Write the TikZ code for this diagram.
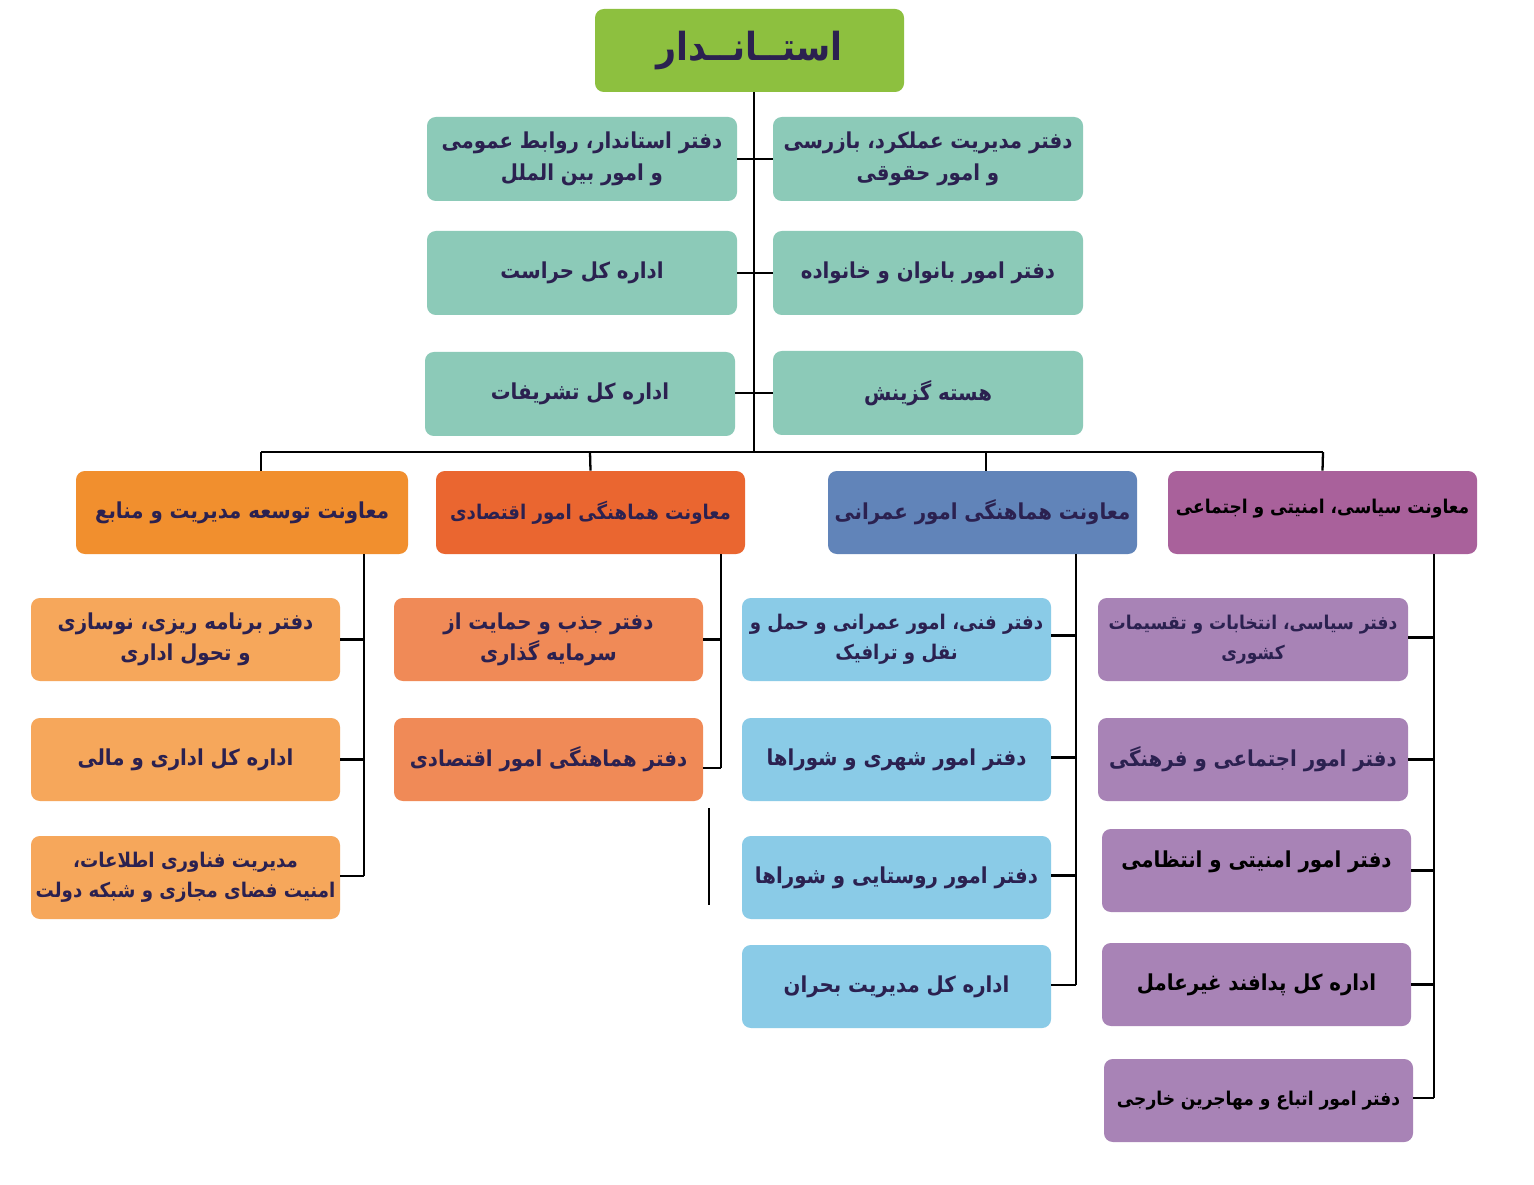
\documentclass[tikz,border=0pt]{standalone}
\usepackage{fontspec}
\newfontfamily\fa[Script=Arabic]{DejaVu Sans Condensed}
\TeXXeTstate=1
\definecolor{cgreen}{HTML}{8DC03F}
\definecolor{cteal}{HTML}{8CCAB8}
\definecolor{cdor}{HTML}{F18F2E}
\definecolor{cdred}{HTML}{EA6630}
\definecolor{cdblue}{HTML}{6184B9}
\definecolor{cdpur}{HTML}{A9619B}
\definecolor{cor}{HTML}{F6A75B}
\definecolor{cred}{HTML}{F08A57}
\definecolor{cblue}{HTML}{8ACBE7}
\definecolor{cpur}{HTML}{A883B6}
\definecolor{txt}{HTML}{2B2150}
\newcommand\rl[1]{\beginR #1\endR}
\newcommand\orgbox[7]{\node[orgnode,#6,minimum width={(#4-#2)*0.02cm},minimum height={(#5-#3)*0.02cm}] (#1) at ({(#2+#4)/2},{(#3+#5)/2}) {#7};}
\begin{document}
\begin{tikzpicture}[x=0.02cm,y=-0.02cm,
  orgnode/.style={rectangle,rounded corners=5pt,inner sep=0pt,align=center,text=txt,
    font=\fa\bfseries\fontsize{12.5}{18}\selectfont},
  smalltext/.style={font=\fa\bfseries\fontsize{11.5}{17}\selectfont},
  tinytext/.style={font=\fa\bfseries\fontsize{10.8}{17}\selectfont},
  conn/.style={line width=1.3pt,black}]
\useasboundingbox[fill=white] (0,0) rectangle (1534,1185);
% top
\orgbox{top}{595}{9}{904}{92}{fill=cgreen,font=\fa\bfseries\fontsize{22}{26}\selectfont}{\rl{استــانــدار}}
% staff
\orgbox{l1}{427}{117}{737}{201}{fill=cteal}{\rl{دفتر استاندار، روابط عمومی}\\\rl{و امور بین الملل}}
\orgbox{r1}{773}{117}{1083}{201}{fill=cteal}{\rl{دفتر مدیریت عملکرد، بازرسی}\\\rl{و امور حقوقی}}
\orgbox{l2}{427}{231}{737}{315}{fill=cteal}{\rl{اداره کل حراست}}
\orgbox{r2}{773}{231}{1083}{315}{fill=cteal}{\rl{دفتر امور بانوان و خانواده}}
\orgbox{l3}{425}{352}{735}{436}{fill=cteal}{\rl{اداره کل تشریفات}}
\orgbox{r3}{773}{351}{1083}{435}{fill=cteal}{\rl{هسته گزینش}}
% deputies
\orgbox{d1}{76}{471}{408}{554}{fill=cdor}{\rl{معاونت توسعه مدیریت و منابع}}
\orgbox{d2}{436}{471}{745}{554}{fill=cdred,smalltext}{\rl{معاونت هماهنگی امور اقتصادی}}
\orgbox{d3}{828}{471}{1137}{554}{fill=cdblue}{\rl{معاونت هماهنگی امور عمرانی}}
\orgbox{d4}{1168}{471}{1477}{554}{fill=cdpur,text=black,tinytext}{\raisebox{0.26cm}{\rl{معاونت سیاسی، امنیتی و اجتماعی}}}
% orange column
\orgbox{o1}{31}{598}{340}{681}{fill=cor}{\rl{دفتر برنامه ریزی، نوسازی}\\\rl{و تحول اداری}}
\orgbox{o2}{31}{718}{340}{801}{fill=cor}{\rl{اداره کل اداری و مالی}}
\orgbox{o3}{31}{836}{340}{919}{fill=cor,smalltext}{\rl{مدیریت فناوری اطلاعات،}\\\rl{امنیت فضای مجازی و شبکه دولت}}
% red column
\orgbox{e1}{394}{598}{703}{681}{fill=cred}{\rl{دفتر جذب و حمایت از}\\\rl{سرمایه گذاری}}
\orgbox{e2}{394}{718}{703}{801}{fill=cred}{\rl{دفتر هماهنگی امور اقتصادی}}
% blue column
\orgbox{b1}{742}{598}{1051}{681}{fill=cblue,smalltext}{\rl{دفتر فنی، امور عمرانی و حمل و}\\\rl{نقل و ترافیک}}
\orgbox{b2}{742}{718}{1051}{801}{fill=cblue}{\rl{دفتر امور شهری و شوراها}}
\orgbox{b3}{742}{836}{1051}{919}{fill=cblue}{\rl{دفتر امور روستایی و شوراها}}
\orgbox{b4}{742}{945}{1051}{1028}{fill=cblue}{\rl{اداره کل مدیریت بحران}}
% purple column
\orgbox{p1}{1098}{598}{1408}{681}{fill=cpur,tinytext}{\rl{دفتر سیاسی، انتخابات و تقسیمات}\\\rl{کشوری}}
\orgbox{p2}{1098}{718}{1408}{801}{fill=cpur}{\rl{دفتر امور اجتماعی و فرهنگی}}
\orgbox{p3}{1102}{829}{1411}{912}{fill=cpur,text=black}{\raisebox{0.46cm}{\rl{دفتر امور امنیتی و انتظامی}}}
\orgbox{p4}{1102}{943}{1411}{1026}{fill=cpur,text=black}{\rl{اداره کل پدافند غیرعامل}}
\orgbox{p5}{1104}{1059}{1413}{1142}{fill=cpur,text=black,tinytext}{\rl{دفتر امور اتباع و مهاجرین خارجی}}
% coordinates
\coordinate (bus) at (754,452);
\coordinate (busL) at (261,452);
\coordinate (busR) at (1323,452);
\coordinate (drop1) at (261,471);
\coordinate (drop2) at (590,452);
\coordinate (drop3) at (986,452);
\coordinate (s1t) at (364,554); \coordinate (s1b) at (364,876);
\coordinate (s2t) at (721,554); \coordinate (s2b) at (721,768);
\coordinate (s3t) at (1076,554); \coordinate (s3b) at (1076,985);
\coordinate (s4t) at (1434,554); \coordinate (s4b) at (1434,1098);
\coordinate (st1) at (709,808); \coordinate (st2) at (709,905);
% connectors
\draw[conn] (bus |- top.south) -- (bus);
\draw[conn] (l1.east) -- (r1.west);
\draw[conn] (l2.east) -- (r2.west);
\draw[conn] (l3.east |- r3.west) -- (r3.west);
\draw[conn] (busL) -- (busR);
\draw[conn] (busL) -- (drop1);
\draw[conn] (drop2) -- (d2.north);
\draw[conn] (drop3) -- (drop3 |- d3.north);
\draw[conn] (busR) -- (d4.north);
\draw[conn] (s1t) -- (s1b);
\draw[conn] (s2t) -- (s2b);
\draw[conn] (s3t) -- (s3b);
\draw[conn] (s4t) -- (s4b);
\draw[conn] (st1) -- (st2);
\draw[conn] (o1.east) -- (o1.east -| s1t);
\draw[conn] (o2.east) -- (o2.east -| s1t);
\draw[conn] (o3.east |- s1b) -- (s1b);
\draw[conn] (e1.east) -- (e1.east -| s2t);
\draw[conn] (e2.east |- s2b) -- (s2b);
\draw[conn] ([yshift=0.08cm]b1.east) -- ([yshift=0.08cm]b1.east -| s3t);
\draw[conn] ([yshift=0.04cm]b2.east) -- ([yshift=0.04cm]b2.east -| s3t);
\draw[conn] ([yshift=0.04cm]b3.east) -- ([yshift=0.04cm]b3.east -| s3t);
\draw[conn] (b4.east |- s3b) -- (s3b);
\draw[conn] ([yshift=0.04cm]p1.east) -- ([yshift=0.04cm]p1.east -| s4t);
\draw[conn] (p2.east) -- (p2.east -| s4t);
\draw[conn] (p3.east) -- (p3.east -| s4t);
\draw[conn] (p4.east) -- (p4.east -| s4t);
\draw[conn] (p5.east |- s4b) -- (s4b);
\end{tikzpicture}
\end{document}
